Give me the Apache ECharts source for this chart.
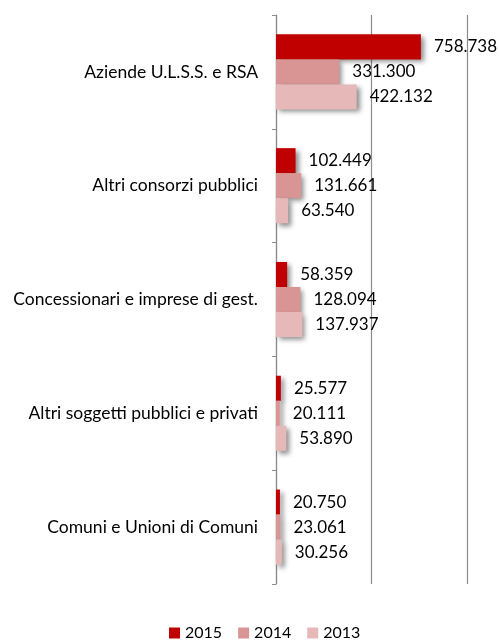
<!DOCTYPE html>
<html>
<head>
<meta charset="utf-8">
<script src="https://cdn.jsdelivr.net/npm/echarts@6/dist/echarts.min.js"></script>
<style>
  html, body { margin: 0; padding: 0; background: #fff; }
  #chart { width: 499px; height: 640px; }
</style>
</head>
<body>
<div id="chart"></div>
<script>
// Beneficiaries, top to bottom
const categories = [
  'Aziende U.L.S.S. e RSA',
  'Altri consorzi pubblici',
  'Concessionari e imprese di gest.',
  'Altri soggetti pubblici e privati',
  'Comuni e Unioni di Comuni'
];
const years = ['2015', '2014', '2013'];
const values2015 = [758738, 102449, 58359, 25577, 20750];
const values2014 = [331300, 131661, 128094, 20111, 23061];
const values2013 = [422132, 63540, 137937, 53890, 30256];
const xTicks = [0, 500000, 1000000];

const colors = ['#C00000', '#D99594', '#E6B9B8'];
const fontFamily = 'Lato, "Open Sans", sans-serif';

function fmt(v) {
  return String(v).replace(/\B(?=(\d{3})+(?!\d))/g, '.');
}

function makeSeries(name, data, color) {
  return {
    name: name,
    type: 'bar',
    data: data,
    barGap: '0%',
    barCategoryGap: '34%',
    itemStyle: {
      color: color,
      shadowColor: 'rgba(0,0,0,0.45)',
      shadowBlur: 5,
      shadowOffsetX: 3,
      shadowOffsetY: 3
    },
    label: {
      show: true,
      position: 'right',
      distance: 13,
      color: '#000',
      fontFamily: fontFamily,
      fontSize: 17,
      formatter: p => fmt(p.value)
    }
  };
}

const chart = echarts.init(document.getElementById('chart'), null, { renderer: 'canvas' });
chart.setOption({
  animation: false,
  color: colors,
  grid: { left: 276, right: 32, top: 15, bottom: 56, containLabel: false },
  legend: {
    data: years,
    top: 620,
    left: 164,
    itemWidth: 11,
    itemHeight: 11,
    itemGap: 16,
    icon: 'rect',
    textStyle: { fontFamily: fontFamily, fontSize: 16, color: '#000' }
  },
  xAxis: {
    type: 'value',
    min: xTicks[0],
    max: xTicks[xTicks.length - 1],
    interval: xTicks[1] - xTicks[0],
    axisLabel: { show: false },
    axisLine: { show: false },
    axisTick: { show: false },
    splitLine: { show: true, lineStyle: { color: '#8c8c8c', width: 1.2 } }
  },
  yAxis: {
    type: 'category',
    data: categories,
    inverse: true,
    axisLine: { show: true, lineStyle: { color: '#8c8c8c', width: 1.2 } },
    axisTick: { show: true, length: 4, lineStyle: { color: '#8c8c8c' } },
    axisLabel: { margin: 18, color: '#000', fontFamily: fontFamily, fontSize: 17.5 },
    splitLine: { show: false }
  },
  series: [
    makeSeries(years[0], values2015, colors[0]),
    makeSeries(years[1], values2014, colors[1]),
    makeSeries(years[2], values2013, colors[2])
  ]
});
</script>
</body>
</html>
